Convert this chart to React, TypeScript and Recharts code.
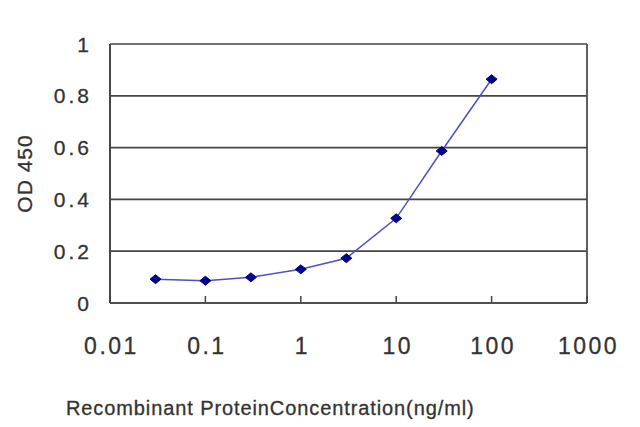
import React from 'react';
import { LineChart, Line, XAxis, YAxis, CartesianGrid, Label } from 'recharts';

const concentrations = [0.03, 0.1, 0.3, 1, 3, 10, 30, 100];
const odValues = [0.092, 0.086, 0.099, 0.13, 0.173, 0.327, 0.587, 0.864];
const xTicks = [0.01, 0.1, 1, 10, 100, 1000];
const xTickLabels = ['0.01', '0.1', '1', '10', '100', '1000'];
const yTicks = [0, 0.2, 0.4, 0.6, 0.8, 1];
const yTickLabels = ['0', '0.2', '0.4', '0.6', '0.8', '1'];

const data = concentrations.map((c, i) => ({ conc: c, od: odValues[i] }));

const FONT = '"Liberation Sans", Arial, sans-serif';
const TEXT = '#333333';
const X_MARGIN = 44;

const XTick = (props: any) => {
  const { x, y, payload } = props;
  const axisY = y - X_MARGIN;
  const idx = xTicks.indexOf(payload.value);
  return (
    <g>
      <line x1={x} x2={x} y1={axisY} y2={axisY - 7} stroke="#444" strokeWidth={1.5} />
      <text x={x + 1.5} y={axisY + 51} textAnchor="middle" fontFamily={FONT} fontSize={23} letterSpacing={2.5} fill={TEXT} stroke={TEXT} strokeWidth={0.3}>
        {idx >= 0 ? xTickLabels[idx] : String(payload.value)}
      </text>
    </g>
  );
};

const YTick = (props: any) => {
  const { x, y, payload } = props;
  const idx = yTicks.indexOf(payload.value);
  return (
    <text x={x + 3} y={y + 7.5} textAnchor="end" fontFamily={FONT} fontSize={21} letterSpacing={3} fill={TEXT} stroke={TEXT} strokeWidth={0.3}>
      {idx >= 0 ? yTickLabels[idx] : String(payload.value)}
    </text>
  );
};

const Diamond = (props: any) => {
  const { cx, cy } = props;
  if (cx == null || cy == null) return null;
  return <path d={`M${cx - 5.5},${cy} L${cx},${cy - 4.5} L${cx + 5.5},${cy} L${cx},${cy + 4.5} Z`} fill="#00008f" stroke="#00008f" />;
};

export default function App() {
  return (
    <div style={{ position: 'absolute', left: 0, top: 0, background: '#fff' }}>
      <LineChart width={640} height={427} data={data} margin={{ top: 44, right: 53, bottom: 0, left: 50 }}>
        <CartesianGrid
          vertical={true}
          horizontal={true}
          stroke="#444444"
          strokeWidth={1.7}
          verticalCoordinatesGenerator={(p: any) => [p.offset.left, p.offset.left + p.offset.width]}
        />
        <XAxis
          dataKey="conc"
          type="number"
          scale="log"
          domain={[0.01, 1000]}
          ticks={xTicks}
          allowDataOverflow
          tickLine={false}
          tickSize={0}
          tickMargin={X_MARGIN}
          axisLine={{ stroke: '#444444', strokeWidth: 1.7 }}
          tick={<XTick />}
          interval={0}
          height={124}
        >
          <Label
            content={(p: any) => {
              const vb = p.viewBox;
              return (
                <text x={vb.x - 44} y={vb.y + 112} fontFamily={FONT} fontSize={20} letterSpacing={0.9} fill={TEXT} stroke={TEXT} strokeWidth={0.3}>
                  Recombinant ProteinConcentration(ng/ml)
                </text>
              );
            }}
          />
        </XAxis>
        <YAxis
          type="number"
          domain={[0, 1]}
          ticks={yTicks}
          interval={0}
          tickLine={false}
          tickSize={0}
          tickMargin={21}
          axisLine={{ stroke: '#444444', strokeWidth: 1.7 }}
          tick={<YTick />}
          width={60}
        >
          <Label
            content={(p: any) => {
              const vb = p.viewBox;
              const cx = 32;
              const cy = vb.y + vb.height / 2;
              return (
                <text x={cx} y={cy} transform={`rotate(-90, ${cx}, ${cy})`} textAnchor="middle" fontFamily={FONT} fontSize={21} letterSpacing={1} fill={TEXT} stroke={TEXT} strokeWidth={0.3}>
                  OD 450
                </text>
              );
            }}
          />
        </YAxis>
        <Line
          dataKey="od"
          stroke="#5050c0"
          strokeWidth={1.5}
          dot={<Diamond />}
          activeDot={false}
          isAnimationActive={false}
          type="linear"
        />
      </LineChart>
    </div>
  );
}
